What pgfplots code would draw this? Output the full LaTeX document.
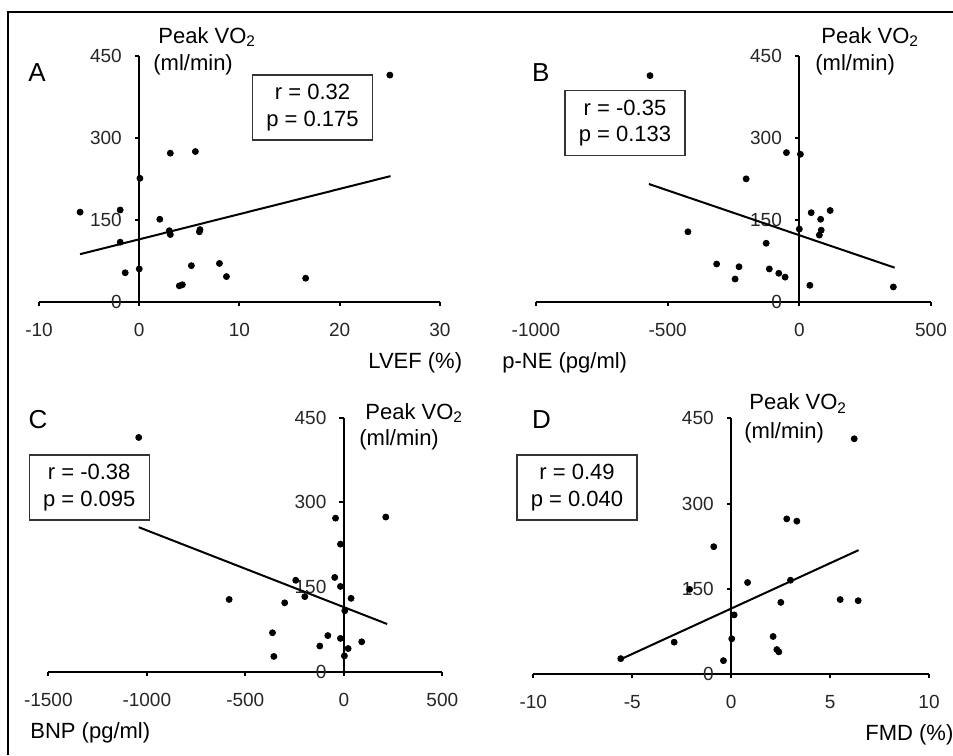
\documentclass[border=0pt]{standalone}
\usepackage{fontspec}
\setmainfont{Liberation Sans}
\usepackage{pgfplots}
\pgfplotsset{compat=1.18}

\newcommand\tfont{\fontsize{11}{13.2}\selectfont}
\newcommand\kfont{\fontsize{9.5}{11}\selectfont}
\newcommand\lfont{\fontsize{13}{15}\selectfont}

\pgfplotsset{
  panel/.style={
    scale only axis, clip=false, anchor=south west,
    axis x line*=bottom, axis y line*=middle,
    ymin=0, ymax=450, ytick={0,150,300,450},
    yticklabels={0,150,300,450},
    hide obscured x ticks=false, hide obscured y ticks=false,
    tick align=outside, major tick length=2.2pt,
    axis line style={line width=1pt},
    every tick/.style={black,line width=1pt},
    tick label style={font=\kfont, text=black!85},
    xticklabel style={yshift=-5pt},
    yticklabel style={xshift=-3pt},
  },
  dots/.style={only marks, mark=*, mark size=1.5pt, black},
  fit/.style={no marks, black, line width=1pt},
}
\tikzset{rbox/.style={draw=black!80, line width=0.6pt, align=center,
  minimum width=60pt, minimum height=32.5pt, inner sep=0pt, font=\tfont}}

\begin{document}
\begin{tikzpicture}
\useasboundingbox (0,0) rectangle (476.5pt,377.5pt);
\draw[line width=1.3pt] (4pt,0pt) -- (4pt,371.5pt) -- (476.5pt,371.5pt);

% A: LVEF
\begin{axis}[panel, at={(19.5pt,226.65pt)}, width=200.5pt, height=122.85pt,
  xmin=-10, xmax=30, xtick={-10,0,10,20,30}, xticklabels={-10,0,10,20,30}]
\addplot[dots] coordinates {(-5.9,164) (-1.9,168) (-1.9,109) (-1.4,53) (0.07,226)
  (0,60) (2.05,151) (3.1,272) (5.6,275) (3.0,130) (3.1,123) (6.06,132) (6.0,128)
  (5.2,66) (8.0,70) (8.7,46) (4.0,29) (4.3,31) (16.6,43) (25.0,415)};
\addplot[fit] coordinates {(-5.9,87) (25.07,230)};
\end{axis}

% B: p-NE
\begin{axis}[panel, at={(268pt,226.65pt)}, width=197.5pt, height=122.85pt,
  xmin=-1000, xmax=500, xtick={-1000,-500,0,500}, xticklabels={-1000,-500,0,500}]
\addplot[dots] coordinates {(-567,414) (-423,128) (-314,69) (-229,64) (-244,41.5)
  (-202,225) (-126,107) (-114,60) (-78,52) (-54,45) (-49,273) (4,270) (0,133)
  (40,30) (45,163) (81,151) (83,131) (76,122) (117,167) (357,27)};
\addplot[fit] coordinates {(-571,215.5) (362,62.3)};
\end{axis}

% C: BNP
\begin{axis}[panel, at={(24.15pt,41.65pt)}, width=197pt, height=127pt,
  xmin=-1500, xmax=500, xtick={-1500,-1000,-500,0,500},
  xticklabels={-1500,-1000,-500,0,500}]
\addplot[dots] coordinates {(-1041,415) (-582,128) (-300,122) (-362,69) (-355,27)
  (-244,162) (-198,133) (-122,45.5) (-81,64) (-42,272) (-17,226) (-46,167)
  (-17,151) (-17,59) (5,108) (22,41) (3,28) (37,130) (91,53) (213,274)};
\addplot[fit] coordinates {(-1041,256) (220,84.5)};
\end{axis}

% D: FMD
\begin{axis}[panel, at={(266.65pt,40.5pt)}, width=197.85pt, height=127.85pt,
  xmin=-10, xmax=10, xtick={-10,-5,0,5,10}, xticklabels={-10,-5,0,5,10}]
\addplot[dots] coordinates {(-5.58,27) (-2.88,56) (-2.1,149) (-0.88,224)
  (-0.39,23.5) (0.03,62) (0.15,104) (0.83,161) (2.12,66) (2.31,43) (2.41,39)
  (2.51,126) (2.81,273) (3.32,269) (3.0,165) (5.51,131) (6.42,129) (6.22,414)};
\addplot[fit] coordinates {(-5.58,26) (6.44,218)};
\end{axis}

% panel letters
\node[anchor=base west, font=\lfont, inner sep=0] at (14pt,336.5pt) {A};
\node[anchor=base west, font=\lfont, inner sep=0] at (265.85pt,336.65pt) {B};
\node[anchor=base west, font=\lfont, inner sep=0] at (14.15pt,163.35pt) {C};
\node[anchor=base west, font=\lfont, inner sep=0] at (265.85pt,163.35pt) {D};

% y axis titles
\node[anchor=base west, font=\tfont, inner sep=0] at (79pt,355.85pt) {Peak VO\textsubscript{2}};
\node[anchor=base west, font=\tfont, inner sep=0] at (76.5pt,342.15pt) {(ml/min)};
\node[anchor=base west, font=\tfont, inner sep=0] at (410.5pt,355.85pt) {Peak VO\textsubscript{2}};
\node[anchor=base west, font=\tfont, inner sep=0] at (407.5pt,342.15pt) {(ml/min)};
\node[anchor=base west, font=\tfont, inner sep=0] at (182.5pt,167.75pt) {Peak VO\textsubscript{2}};
\node[anchor=base west, font=\tfont, inner sep=0] at (179.5pt,154.5pt) {(ml/min)};
\node[anchor=base west, font=\tfont, inner sep=0] at (374.5pt,172.5pt) {Peak VO\textsubscript{2}};
\node[anchor=base west, font=\tfont, inner sep=0] at (372pt,158.35pt) {(ml/min)};

% x axis titles
\node[anchor=base west, font=\tfont, inner sep=0] at (184pt,193.35pt) {LVEF (\%)};
\node[anchor=base west, font=\tfont, inner sep=0] at (251pt,193.35pt) {p-NE (pg/ml)};
\node[anchor=base west, font=\tfont, inner sep=0] at (15pt,8.5pt) {BNP (pg/ml)};
\node[anchor=base west, font=\tfont, inner sep=0] at (432.5pt,7.5pt) {FMD (\%)};

% correlation boxes
\node[rbox] at (156.25pt,323.75pt) {r = 0.32\\p = 0.175};
\node[rbox] at (312.5pt,315.9pt) {r = -0.35\\p = 0.133};
\node[rbox] at (44.6pt,133.75pt) {r = -0.38\\p = 0.095};
\node[rbox] at (288.5pt,133.75pt) {r = 0.49\\p = 0.040};
\end{tikzpicture}
\end{document}
